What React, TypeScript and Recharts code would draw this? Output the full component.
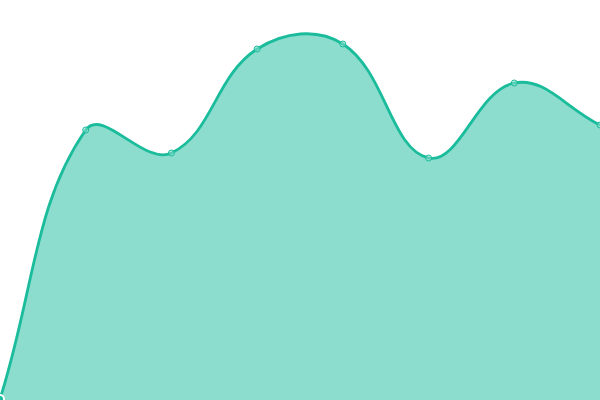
import { AreaChart, Area, XAxis, YAxis } from 'recharts';

const labels = ['A', 'B', 'C', 'D', 'E', 'F', 'G', 'H'];
const values = [1, 270, 247, 351, 356, 242, 317, 275];

const data = labels.map((name, i) => ({ name, value: values[i] }));

// spline with tension 0.4, control points weighted by the distance to each neighbour
const TENSION = 0.4;

class TensionSpline {
  _context: any;
  _line: number = NaN;
  _pts: number[][] = [];
  constructor(context: any) {
    this._context = context;
  }
  areaStart() { this._line = 0; }
  areaEnd() { this._line = NaN; }
  lineStart() { this._pts = []; }
  point(x: number, y: number) { this._pts.push([+x, +y]); }
  lineEnd() {
    const p = this._pts;
    const n = p.length;
    const ctx = this._context;
    if (n) {
      if (this._line) ctx.lineTo(p[0][0], p[0][1]);
      else ctx.moveTo(p[0][0], p[0][1]);
      const prevCp: number[][] = [];
      const nextCp: number[][] = [];
      for (let i = 0; i < n; i++) {
        const prev = p[i - 1] || p[i];
        const cur = p[i];
        const next = p[i + 1] || p[i];
        const d01 = Math.hypot(cur[0] - prev[0], cur[1] - prev[1]);
        const d12 = Math.hypot(next[0] - cur[0], next[1] - cur[1]);
        let s01 = d01 / (d01 + d12);
        let s12 = d12 / (d01 + d12);
        if (isNaN(s01)) s01 = 0;
        if (isNaN(s12)) s12 = 0;
        const fa = TENSION * s01;
        const fb = TENSION * s12;
        prevCp.push([cur[0] - fa * (next[0] - prev[0]), cur[1] - fa * (next[1] - prev[1])]);
        nextCp.push([cur[0] + fb * (next[0] - prev[0]), cur[1] + fb * (next[1] - prev[1])]);
      }
      for (let i = 1; i < n; i++) {
        ctx.bezierCurveTo(nextCp[i - 1][0], nextCp[i - 1][1], prevCp[i][0], prevCp[i][1], p[i][0], p[i][1]);
      }
    }
    if (this._line || (this._line !== 0 && n === 1)) ctx.closePath();
    this._line = 1 - this._line;
  }
}

const tensionSpline = (context: any) => new TensionSpline(context);

export default function App() {
  return (
    <div style={{ position: 'absolute', left: 0, top: 0, width: 600, height: 400, background: '#fff' }}>
      <AreaChart width={600} height={400} data={data} margin={{ top: 0, right: 0, bottom: 0, left: 0 }}>
        <XAxis dataKey="name" hide />
        <YAxis hide domain={[0, 400]} />
        <Area
          type={tensionSpline as any}
          dataKey="value"
          stroke="#1abc9c"
          strokeWidth={2.8}
          fill="#1abc9c"
          fillOpacity={0.5}
          dot={{ r: 3, fill: '#8fe0d0', stroke: '#1abc9c', strokeWidth: 1 }}
          isAnimationActive={false}
        />
      </AreaChart>
    </div>
  );
}
